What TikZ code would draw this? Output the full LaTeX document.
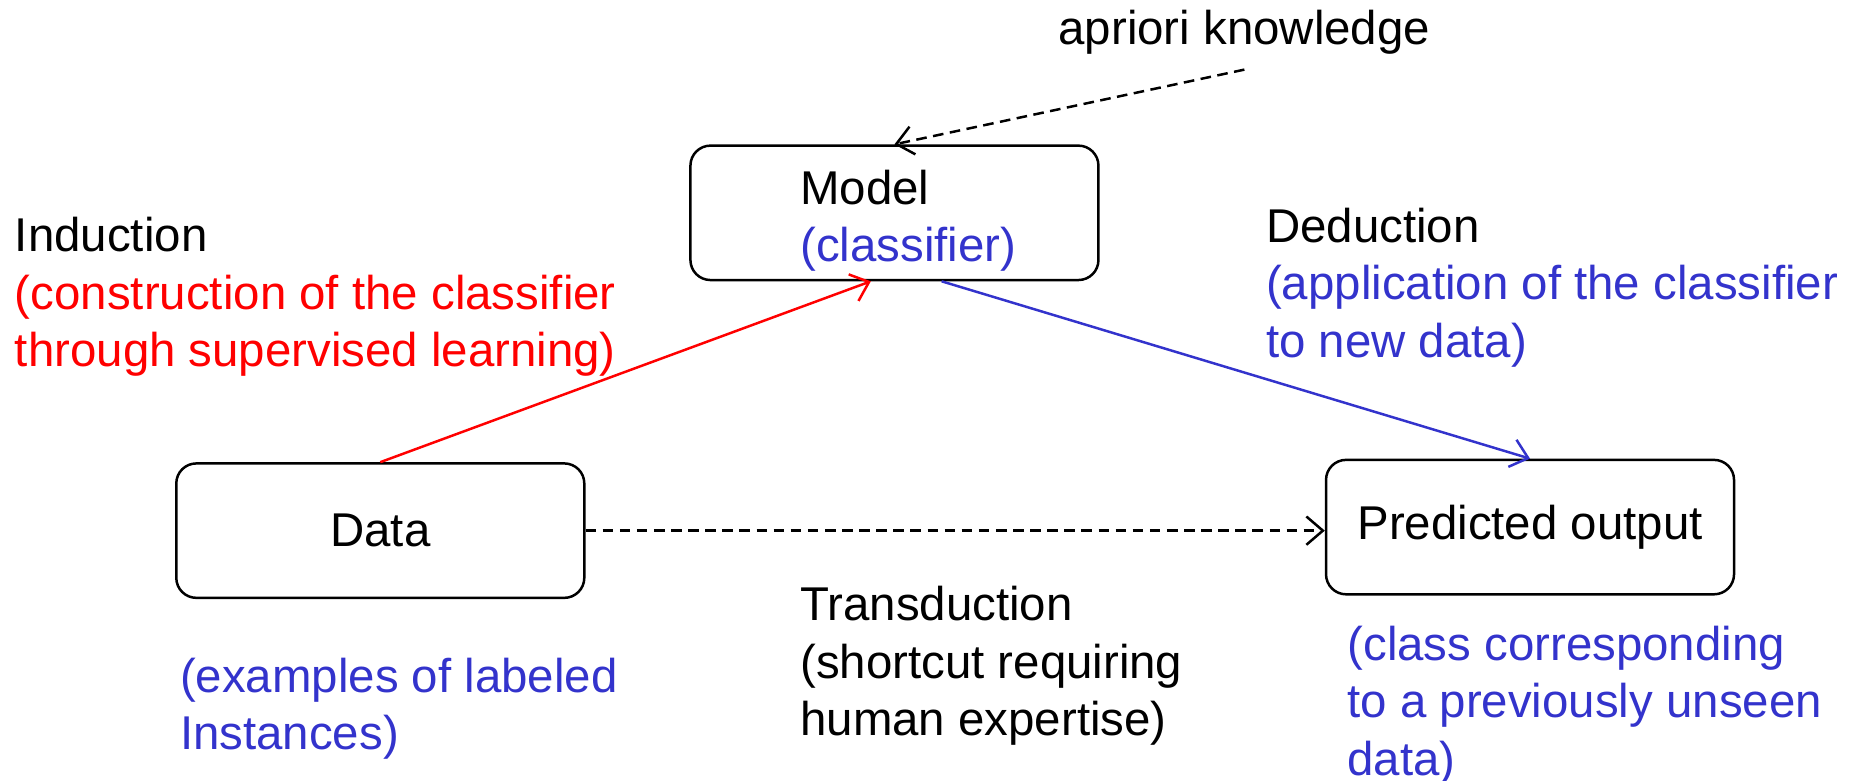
\documentclass[tikz,border=0pt]{standalone}
\usepackage{fontspec}
\setmainfont{Liberation Sans}
\usetikzlibrary{arrows.meta}
\definecolor{clsblue}{RGB}{51,51,204}

\begin{document}
\begin{tikzpicture}[
    >={Straight Barb[length=1.4mm,width=2.4mm]},
    every node/.style={font=\fontsize{11.44pt}{13.9pt}\selectfont},
    box/.style={rectangle, draw, rounded corners=1.7mm, line width=0.6pt, minimum width=3.46cm, minimum height=1.14cm},
    txt/.style={anchor=base west, align=left, inner sep=0pt},
    link/.style={->, line width=0.6pt},
    dashlink/.style={link, dash pattern=on 0.9mm off 0.55mm}
]
    \useasboundingbox (0,0) rectangle (15.68,6.615);

    \node[box] (model) at (7.585,4.81) {};
    \node[box] (data) at (3.225,2.115) {Data};
    \node[box] (pred) at (12.975,2.145) {Predicted output};

    % text blocks, placed at the baseline of their last line
    \node[txt] (modeltxt) at (6.78,4.395) {Model\\\textcolor{clsblue}{(classifier)}};
    \node[txt] (apriori) at (8.97,6.235) {apriori knowledge};
    \node[txt] (induction) at (0.12,3.505) {Induction\\\textcolor{red}{(construction of the classifier}\\\textcolor{red}{through supervised learning)}};
    \node[txt] (deduction) at (10.73,3.585) {Deduction\\\textcolor{clsblue}{(application of the classifier}\\\textcolor{clsblue}{to new data)}};
    \node[txt] (transduction) at (6.78,0.375) {Transduction\\(shortcut requiring\\human expertise)};
    \node[txt, text=clsblue] (examples) at (1.52,0.255) {(examples of labeled\\Instances)};
    \node[txt, text=clsblue] (classdesc) at (11.42,0.04) {(class corresponding\\to a previously unseen\\data)};

    \draw[dashlink] ([yshift=-1.2mm]apriori.south) -- (model.north);
    \draw[link, red] (data.north) -- ([xshift=-2mm]model.south);
    \draw[link, clsblue] ([xshift=4mm]model.south) -- (pred.north);
    \draw[dashlink] (data.east) -- (data.east -| pred.west);
\end{tikzpicture}
\end{document}
